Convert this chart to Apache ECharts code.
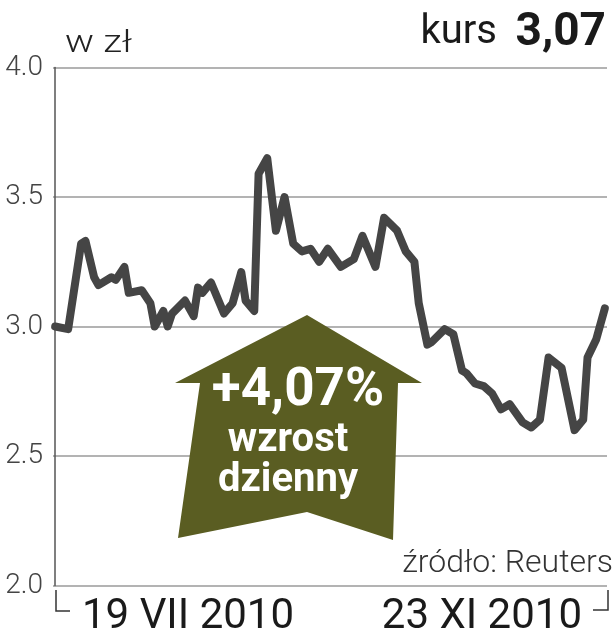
<!DOCTYPE html>
<html><head><meta charset="utf-8">
<script src="https://cdn.jsdelivr.net/npm/echarts@6/dist/echarts.min.js"></script>
<style>html,body{margin:0;padding:0;background:#fff}#c{width:615px;height:640px}</style>
</head><body><div id="c"></div>
<script>
// trading day offset from 19 VII 2010
const days = [0,3,6,7,9,10,13,14,16,17,20,22,23,25,26,27,30,32,33,34,36,39,41,43,44,46,47,49,51,53,55,57,59,61,63,66,69,71,74,76,79,81,83,84,86,87,90,92,94,95,97,99,101,103,105,108,110,112,114,117,120,122,123,125,127];
const prices = [3.00,2.99,3.32,3.33,3.19,3.16,3.19,3.18,3.23,3.13,3.14,3.09,3.00,3.06,3.00,3.05,3.10,3.04,3.15,3.13,3.17,3.05,3.09,3.21,3.10,3.06,3.59,3.65,3.37,3.50,3.32,3.29,3.30,3.25,3.30,3.23,3.26,3.35,3.23,3.42,3.37,3.29,3.25,3.09,2.93,2.94,2.99,2.97,2.83,2.82,2.78,2.77,2.74,2.68,2.70,2.63,2.61,2.64,2.88,2.84,2.60,2.64,2.88,2.95,3.07];
const yTicks = [2.0,2.5,3.0,3.5,4.0];
const dateLabels = ['19 VII 2010','23 XI 2010'];
const unitLabel = 'w zł';
const priceLabel = 'kurs';
const lastPrice = '3,07';
const change = '+4,07%';
const changeText = ['wzrost','dzienny'];
const source = 'źródło: Reuters';

function txt(text,x,baseline,size,font,fill,align,z,sx){
  const asc = 0.79;
  return {type:'text',z:z||10,x:x,y:baseline-asc*size,scaleX:sx||1,
    style:{text:text,x:0,y:0,align:align,verticalAlign:'top',fill:fill,font:font}};
}

const chart = echarts.init(document.getElementById('c'), null, {renderer:'canvas'});
chart.setOption({
  animation:false,
  backgroundColor:'#fff',
  grid:{left:53,right:8,top:67.5,bottom:54.5},
  xAxis:{type:'value',min:-0.5,max:127.5,show:false},
  yAxis:{type:'value',min:yTicks[0],max:yTicks[yTicks.length-1],interval:0.5,
    axisLine:{show:true,lineStyle:{color:'#555',width:1.5}},
    axisTick:{show:false},
    splitLine:{show:true,lineStyle:{color:'#9a9a9a',width:1.5}},
    axisLabel:{formatter:v=>v.toFixed(1),fontFamily:'Roboto',fontWeight:300,fontSize:28,color:'#444',margin:10}
  },
  series:[{type:'line',data:days.map((d,i)=>[d,prices[i]]),symbol:'none',
    lineStyle:{color:'#454545',width:8,join:'round',cap:'round'},z:3}],
  graphic:[
    {type:'polygon',z:100,shape:{points:[[307,315],[422,383],[398,383],[393,540],[307,512],[178,538],[200,383],[175,383]]},style:{fill:'#5a5d22'}},
    txt(change,298,407,53,'bold 53px Roboto','#fff','center',101),
    txt(changeText[0],288,453,40,'bold 40px Roboto','#fff','center',101),
    txt(changeText[1],288,493,40,'bold 40px Roboto','#fff','center',101),
    txt(unitLabel,65,53,32,'300 32px Roboto','#222','left',10,1.2),
    txt(priceLabel,497,45,40,'400 40px Roboto','#1a1a1a','right'),
    txt(lastPrice,606,47,46,'bold 46px Roboto','#1a1a1a','right'),
    txt(source,613,573,32,'300 32px Roboto','#333','right'),
    txt(dateLabels[0],82,630,42,'400 42px Roboto','#1a1a1a','left'),
    txt(dateLabels[1],582,630,42,'400 42px Roboto','#1a1a1a','right'),
    {type:'polyline',shape:{points:[[56,590],[56,611],[70,611]]},style:{stroke:'#333',lineWidth:1.5,fill:null}},
    {type:'polyline',shape:{points:[[593,610],[608,610],[608,590]]},style:{stroke:'#333',lineWidth:1.5,fill:null}}
  ]
});
</script></body></html>
